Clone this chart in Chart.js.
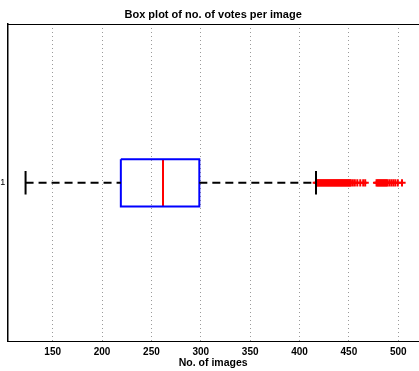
<!DOCTYPE html>
<html><head><meta charset="utf-8">
<script src="https://cdn.jsdelivr.net/npm/chart.js@4"></script>
<style>html,body{margin:0;padding:0;background:#fff;}canvas{display:block;}</style>
</head><body>
<canvas id="c" width="419" height="371"></canvas>
<script>
const categories = [1];
const xTicks = [150, 200, 250, 300, 350, 400, 450, 500];
const lowerWhisker = [122.5];
const q1 = [219];
const median = [261.7];
const q3 = [298.5];
const upperWhisker = [416.7];
const outliers = [417,418,419,420,421,422,423,424,425,426,427,428,429,430,431,432,433,434,435,436,437,438,439,440,441,442,443,444,445,446,447,448,449,450,451,452,454,456,458.5,461.5,464.5,466.5,478,479,480,481,482,483,484,485,486,487,488,489,491,493,495,497,499.5,503.8];

const BOX_H = 0.0745, CAP_H = 0.037;
const ds = [];
categories.forEach((c, i) => {
  ds.push({data:[{x:lowerWhisker[i],y:c},{x:q1[i],y:c}], borderColor:'#000', borderWidth:2, borderDash:[8,5]});
  ds.push({data:[{x:q3[i],y:c},{x:upperWhisker[i],y:c}], borderColor:'#000', borderWidth:2, borderDash:[8,5]});
  ds.push({data:[{x:lowerWhisker[i],y:c-CAP_H},{x:lowerWhisker[i],y:c+CAP_H}], borderColor:'#000', borderWidth:2});
  ds.push({data:[{x:upperWhisker[i],y:c-CAP_H},{x:upperWhisker[i],y:c+CAP_H}], borderColor:'#000', borderWidth:2});
  ds.push({data:[{x:q1[i],y:c-BOX_H},{x:q3[i],y:c-BOX_H},{x:q3[i],y:c+BOX_H},{x:q1[i],y:c+BOX_H},{x:q1[i],y:c-BOX_H}], borderColor:'#0000ff', borderWidth:2});
  ds.push({data:[{x:median[i],y:c-BOX_H},{x:median[i],y:c+BOX_H}], borderColor:'#ff0000', borderWidth:2});
  ds.push({data:outliers.map(v=>({x:v,y:c})), showLine:false, pointStyle:'cross', pointRadius:3.6, borderColor:'#ff0000', borderWidth:2});
});
ds.forEach(d => { if (d.showLine === undefined) { d.showLine = true; d.pointRadius = 0; } d.fill = false; d.tension = 0; });

const fam = '"Liberation Sans", Arial, sans-serif';
const tickFont = {family:fam, size:10, weight:'bold'};
new Chart(document.getElementById('c'), {
  type:'scatter',
  data:{datasets:ds},
  options:{
    responsive:false, animation:false, devicePixelRatio:1,
    layout:{padding:0, autoPadding:false},
    plugins:{legend:{display:false}, tooltip:{enabled:false}, title:{display:false}},
    scales:{
      x:{type:'linear', position:'bottom', min:104, max:521,
        afterBuildTicks:s=>{s.ticks = xTicks.map(v=>({value:v}));},
        afterFit:s=>{s.height = 29.3; s.paddingLeft = 0; s.paddingRight = 0;},
        ticks:{font:tickFont, color:'#000', padding:5, maxRotation:0, autoSkip:false},
        grid:{color:'#9a9a9a', drawTicks:false, lineWidth:1},
        border:{display:true, color:'#000', width:1, dash:[1,3]},
        title:{display:true, text:'No. of images', font:{family:fam, size:10.5, weight:'bold'}, color:'#000', padding:{top:0,bottom:2}}
      },
      x2:{type:'linear', position:'top', min:104, max:521,
        afterFit:s=>{s.height = 24; s.paddingLeft = 0; s.paddingRight = 0;},
        ticks:{display:false},
        grid:{display:false, drawTicks:false},
        border:{display:true, color:'#000', width:1},
        title:{display:true, text:'Box plot of no. of votes per image', font:{family:fam, size:11, weight:'bold'}, color:'#000', padding:{top:8,bottom:0}}
      },
      y:{type:'linear', min:0.5, max:1.5, reverse:true,
        afterBuildTicks:s=>{s.ticks = categories.map(v=>({value:v}));},
        afterFit:s=>{s.width = 7.3; s.paddingTop = 0; s.paddingBottom = 0;},
        ticks:{font:{family:fam, size:9}, color:'#000', padding:2},
        grid:{display:false, drawTicks:false},
        border:{display:true, color:'#000', width:1.5}
      }
    }
  }
});
</script>
</body></html>
